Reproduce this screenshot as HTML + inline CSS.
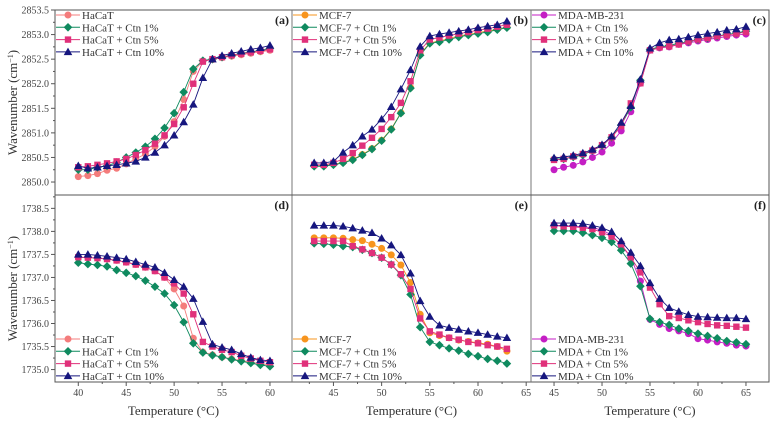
<!DOCTYPE html>
<html><head><meta charset="utf-8">
<style>
html,body{margin:0;padding:0;background:#fff;}
svg{display:block;font-family:"Liberation Serif",serif;}
svg text{font-family:"Liberation Serif",serif;}
</style></head>
<body>
<svg id="chart" width="775" height="422" viewBox="0 0 775 422"></svg>
<script>
// ---- data ----
const tA = [40,41,42,43,44,45,46,47,48,49,50,51,52,53,54,55,56,57,58,59,60];
const tB = [43,44,45,46,47,48,49,50,51,52,53,54,55,56,57,58,59,60,61,62,63];
const tC = [45,46,47,48,49,50,51,52,53,54,55,56,57,58,59,60,61,62,63,64,65];

const aHaCaT = [2850.11,2850.13,2850.17,2850.24,2850.28,2850.37,2850.47,2850.57,2850.72,2850.93,2851.23,2851.68,2852.25,2852.46,2852.49,2852.53,2852.56,2852.59,2852.62,2852.65,2852.68];
const aCtn1 = [2850.25,2850.25,2850.3,2850.33,2850.4,2850.5,2850.6,2850.72,2850.88,2851.1,2851.4,2851.83,2852.3,2852.47,2852.5,2852.54,2852.58,2852.62,2852.65,2852.68,2852.72];
const aCtn5 = [2850.3,2850.32,2850.35,2850.38,2850.42,2850.47,2850.55,2850.65,2850.78,2850.95,2851.18,2851.52,2852.0,2852.45,2852.5,2852.54,2852.58,2852.61,2852.64,2852.67,2852.7];
const aCtn10 = [2850.33,2850.28,2850.3,2850.33,2850.35,2850.38,2850.42,2850.5,2850.6,2850.75,2850.95,2851.22,2851.58,2852.12,2852.5,2852.57,2852.62,2852.66,2852.7,2852.73,2852.78];

const bMCF = [2850.33,2850.33,2850.36,2850.4,2850.46,2850.56,2850.68,2850.85,2851.08,2851.41,2851.92,2852.6,2852.83,2852.87,2852.92,2852.97,2853.0,2853.04,2853.07,2853.11,2853.15];
const bCtn1 = [2850.32,2850.32,2850.35,2850.39,2850.45,2850.55,2850.67,2850.84,2851.07,2851.4,2851.91,2852.58,2852.82,2852.85,2852.9,2852.95,2852.99,2853.02,2853.05,2853.1,2853.14];
const bCtn5 = [2850.35,2850.35,2850.39,2850.47,2850.59,2850.74,2850.9,2851.08,2851.32,2851.61,2852.05,2852.68,2852.9,2852.94,2852.98,2853.02,2853.05,2853.09,2853.12,2853.16,2853.2];
const bCtn10 = [2850.39,2850.39,2850.42,2850.6,2850.75,2850.93,2851.07,2851.28,2851.53,2851.89,2852.28,2852.76,2852.97,2853.01,2853.04,2853.07,2853.1,2853.14,2853.17,2853.2,2853.27];

const cMDA = [2850.25,2850.3,2850.34,2850.41,2850.5,2850.61,2850.79,2851.04,2851.43,2852.01,2852.68,2852.73,2852.75,2852.8,2852.83,2852.87,2852.9,2852.93,2852.96,2852.99,2853.01];
const cCtn1 = [2850.47,2850.47,2850.51,2850.55,2850.64,2850.74,2850.91,2851.16,2851.52,2852.07,2852.7,2852.75,2852.78,2852.82,2852.86,2852.9,2852.93,2852.97,2853.0,2853.03,2853.07];
const cCtn5 = [2850.45,2850.47,2850.52,2850.57,2850.64,2850.75,2850.91,2851.14,2851.6,2852.01,2852.68,2852.74,2852.76,2852.8,2852.86,2852.9,2852.93,2852.97,2852.99,2853.02,2853.05];
const cCtn10 = [2850.49,2850.51,2850.54,2850.59,2850.66,2850.76,2850.93,2851.21,2851.55,2852.09,2852.72,2852.83,2852.89,2852.91,2852.95,2852.99,2853.02,2853.05,2853.09,2853.11,2853.16];

const dHaCaT = [1737.44,1737.43,1737.42,1737.4,1737.37,1737.33,1737.28,1737.22,1737.14,1737.0,1736.75,1736.38,1735.68,1735.38,1735.32,1735.27,1735.23,1735.2,1735.16,1735.13,1735.1];
const dCtn1 = [1737.32,1737.29,1737.27,1737.24,1737.16,1737.1,1737.03,1736.93,1736.8,1736.65,1736.4,1736.03,1735.57,1735.37,1735.31,1735.27,1735.22,1735.18,1735.14,1735.1,1735.07];
const dCtn5 = [1737.44,1737.43,1737.42,1737.4,1737.37,1737.33,1737.28,1737.22,1737.14,1737.0,1736.87,1736.65,1736.2,1735.6,1735.5,1735.43,1735.38,1735.3,1735.24,1735.19,1735.16];
const dCtn10 = [1737.5,1737.5,1737.48,1737.46,1737.43,1737.4,1737.34,1737.28,1737.22,1737.1,1736.95,1736.8,1736.54,1736.04,1735.55,1735.48,1735.43,1735.34,1735.26,1735.21,1735.19];

const eMCF = [1737.86,1737.86,1737.86,1737.85,1737.82,1737.8,1737.72,1737.63,1737.49,1737.27,1736.89,1736.2,1735.8,1735.74,1735.69,1735.64,1735.61,1735.58,1735.55,1735.5,1735.4];
const eCtn1 = [1737.74,1737.73,1737.71,1737.68,1737.66,1737.6,1737.53,1737.43,1737.28,1737.05,1736.63,1735.92,1735.6,1735.53,1735.46,1735.41,1735.34,1735.29,1735.23,1735.19,1735.13];
const eCtn5 = [1737.79,1737.79,1737.79,1737.79,1737.68,1737.61,1737.53,1737.43,1737.28,1737.07,1736.75,1736.11,1735.83,1735.76,1735.69,1735.65,1735.6,1735.57,1735.53,1735.5,1735.45];
const eCtn10 = [1738.13,1738.13,1738.13,1738.11,1738.07,1738.02,1737.97,1737.85,1737.7,1737.49,1737.09,1736.49,1736.15,1735.96,1735.91,1735.87,1735.83,1735.8,1735.76,1735.72,1735.69];

const fMDA = [1738.13,1738.13,1738.11,1738.1,1738.08,1738.03,1737.92,1737.7,1737.44,1736.92,1736.09,1735.98,1735.89,1735.84,1735.78,1735.67,1735.64,1735.6,1735.57,1735.53,1735.51];
const fCtn1 = [1738.01,1738.01,1738.01,1737.97,1737.92,1737.86,1737.77,1737.59,1737.3,1736.81,1736.1,1736.03,1735.97,1735.89,1735.84,1735.78,1735.73,1735.68,1735.62,1735.59,1735.55];
const fCtn5 = [1738.13,1738.11,1738.1,1738.08,1738.05,1737.98,1737.89,1737.72,1737.44,1737.11,1736.78,1736.42,1736.16,1736.12,1736.07,1736.03,1735.99,1735.96,1735.95,1735.93,1735.91];
const fCtn10 = [1738.18,1738.18,1738.18,1738.17,1738.13,1738.08,1737.99,1737.79,1737.54,1737.25,1736.88,1736.54,1736.34,1736.26,1736.19,1736.15,1736.14,1736.13,1736.12,1736.12,1736.1];

const topYTicks = [2850.0,2850.5,2851.0,2851.5,2852.0,2852.5,2853.0,2853.5];
const botYTicks = [1735.0,1735.5,1736.0,1736.5,1737.0,1737.5,1738.0,1738.5];
const xTicksA = [40,45,50,55,60];
const xTicksB = [45,50,55,60,65];
const xTicksC = [45,50,55,60,65];

const legA = ["HaCaT","HaCaT + Ctn 1%","HaCaT + Ctn 5%","HaCaT + Ctn 10%"];
const legB = ["MCF-7","MCF-7 + Ctn 1%","MCF-7 + Ctn 5%","MCF-7 + Ctn 10%"];
const legC = ["MDA-MB-231","MDA + Ctn 1%","MDA + Ctn 5%","MDA + Ctn 10%"];

// ---- layout ----
const NS = "http://www.w3.org/2000/svg";
const svg = document.getElementById('chart');
function mk(tag, attrs, parent){
  const e = document.createElementNS(NS, tag);
  for (const k in attrs) e.setAttribute(k, attrs[k]);
  (parent||svg).appendChild(e);
  return e;
}
const cols = [
  {x0:55, x1:292, tmin:37.57, tmax:62.3, ticks:xTicksA, t:tA, leg:legA},
  {x0:292, x1:531, tmin:40.7, tmax:65.5, ticks:xTicksB, t:tB, leg:legB},
  {x0:531, x1:769, tmin:42.6, tmax:67.4, ticks:xTicksC, t:tC, leg:legC}
];
const rows = [
  {y0:10, y1:195, vmin:2849.736, vmax:2853.5, ticks:topYTicks},
  {y0:195, y1:382, vmin:1734.73, vmax:1738.79, ticks:botYTicks}
];
function xs(c, t){ return c.x0 + (t - c.tmin)/(c.tmax - c.tmin)*(c.x1 - c.x0); }
function ys(r, v){ return r.y1 - (v - r.vmin)/(r.vmax - r.vmin)*(r.y1 - r.y0); }

const C_SAL="#f47c7c", C_GRN="#0f8a5f", C_PNK="#e0307a", C_NAV="#16167e", C_ORG="#f7941d", C_MAG="#c41ec4";
const panels = [
  {c:0,r:0,label:"(a)",series:[aHaCaT,aCtn1,aCtn5,aCtn10],colors:[C_SAL,C_GRN,C_PNK,C_NAV],legTop:true},
  {c:1,r:0,label:"(b)",series:[bMCF,bCtn1,bCtn5,bCtn10],colors:[C_ORG,C_GRN,C_PNK,C_NAV],legTop:true},
  {c:2,r:0,label:"(c)",series:[cMDA,cCtn1,cCtn5,cCtn10],colors:[C_MAG,C_GRN,C_PNK,C_NAV],legTop:true},
  {c:0,r:1,label:"(d)",series:[dHaCaT,dCtn1,dCtn5,dCtn10],colors:[C_SAL,C_GRN,C_PNK,C_NAV],legTop:false},
  {c:1,r:1,label:"(e)",series:[eMCF,eCtn1,eCtn5,eCtn10],colors:[C_ORG,C_GRN,C_PNK,C_NAV],legTop:false},
  {c:2,r:1,label:"(f)",series:[fMDA,fCtn1,fCtn5,fCtn10],colors:[C_MAG,C_GRN,C_PNK,C_NAV],legTop:false}
];
const shapes = ["circle","diamond","square","triangle"];
function marker(shape, x, y, col, g){
  let e;
  if (shape==="circle") e = mk('circle',{cx:x,cy:y,r:3.5,fill:col},g);
  else if (shape==="square") e = mk('rect',{x:x-3.2,y:y-3.2,width:6.4,height:6.4,fill:col},g);
  else if (shape==="diamond") e = mk('polygon',{points:`${x},${y-4.3} ${x+4.3},${y} ${x},${y+4.3} ${x-4.3},${y}`,fill:col},g);
  else e = mk('polygon',{points:`${x},${y-4.3} ${x+4.3},${y+3.2} ${x-4.3},${y+3.2}`,fill:col},g);
  return e;
}

// frames
const frame = mk('rect',{x:55,y:10,width:714,height:372,fill:"none",stroke:"#555","stroke-width":1});


const vl1 = mk('line',{x1:292,y1:10,x2:292,y2:382,stroke:"#777","stroke-width":1});


const vl2 = mk('line',{x1:531,y1:10,x2:531,y2:382,stroke:"#777","stroke-width":1});


const hl = mk('line',{x1:55,y1:195,x2:769,y2:195,stroke:"#555","stroke-width":1});



// y axes
rows.forEach((r,ri)=>{
  const g = mk('g',{});
  
  
  r.ticks.forEach(v=>{
    const y = ys(r,v);
    mk('line',{x1:51,y1:y,x2:55,y2:y,stroke:"#555","stroke-width":1},g);
    const my = ys(r, v+0.25);
    if (my > r.y0) mk('line',{x1:53,y1:my,x2:55,y2:my,stroke:"#555","stroke-width":1},g);
    const tx = mk('text',{x:49,y:y+3.5,"font-size":"10","text-anchor":"end",fill:"#444"},g);
    tx.textContent = v.toFixed(1);
    
    
  });
  const cy = (r.y0+r.y1)/2;
  const tt = mk('text',{x:17,y:cy,"font-size":"13","text-anchor":"middle",fill:"#333",transform:`rotate(-90 17 ${cy})`},g);
  tt.innerHTML = 'Wavenumber (cm<tspan baseline-shift="super" font-size="8">−1</tspan>)';
  
  
});

// x axes
cols.forEach((c,ci)=>{
  const g = mk('g',{});
  
  
  c.ticks.forEach(t=>{
    const x = xs(c,t);
    mk('line',{x1:x,y1:382,x2:x,y2:386,stroke:"#555","stroke-width":1},g);
    const mx = xs(c,t-2.5);
    if (mx > c.x0) mk('line',{x1:mx,y1:382,x2:mx,y2:384,stroke:"#555","stroke-width":1},g);
    const tx = mk('text',{x:x,y:396,"font-size":"10","text-anchor":"middle",fill:"#444"},g);
    tx.textContent = t;
    
    
  });
  const tt = mk('text',{x:(c.x0+c.x1)/2,y:415,"font-size":"13","text-anchor":"middle",fill:"#333"},g);
  tt.textContent = 'Temperature (°C)';
  
  
});

// panels
panels.forEach(p=>{
  const c = cols[p.c], r = rows[p.r];
  const g = mk('g',{});
  
  
  p.series.forEach((vals,si)=>{
    const sg = mk('g',{},g);
    
    
    const pts = vals.map((v,i)=>xs(c,c.t[i]).toFixed(1)+','+ys(r,v).toFixed(1)).join(' ');
    mk('polyline',{points:pts,fill:"none",stroke:p.colors[si],"stroke-width":0.9},sg);
    vals.forEach((v,i)=>{
      const m = marker(shapes[si], xs(c,c.t[i]), ys(r,v), p.colors[si], sg);
      
      
    });
  });
  // legend
  const lg = mk('g',{},g);
  
  
  const ly0 = p.legTop ? 15 : 339;
  c.leg.forEach((name,li)=>{
    const y = ly0 + li*12.3;
    const eg = mk('g',{},lg);
    
    
    mk('line',{x1:c.x0+1,y1:y,x2:c.x0+25,y2:y,stroke:p.colors[li],"stroke-width":1},eg);
    marker(shapes[li], c.x0+13, y, p.colors[li], eg);
    const tx = mk('text',{x:c.x0+27,y:y+4,"font-size":"11",fill:"#333"},eg);
    tx.textContent = name;
  });
  const lab = mk('text',{x:c.x1-3,y:r.y0+14,"font-size":"12","font-weight":"bold","text-anchor":"end",fill:"#222"},g);
  lab.textContent = p.label;
  
  
});
</script>
</body></html>
